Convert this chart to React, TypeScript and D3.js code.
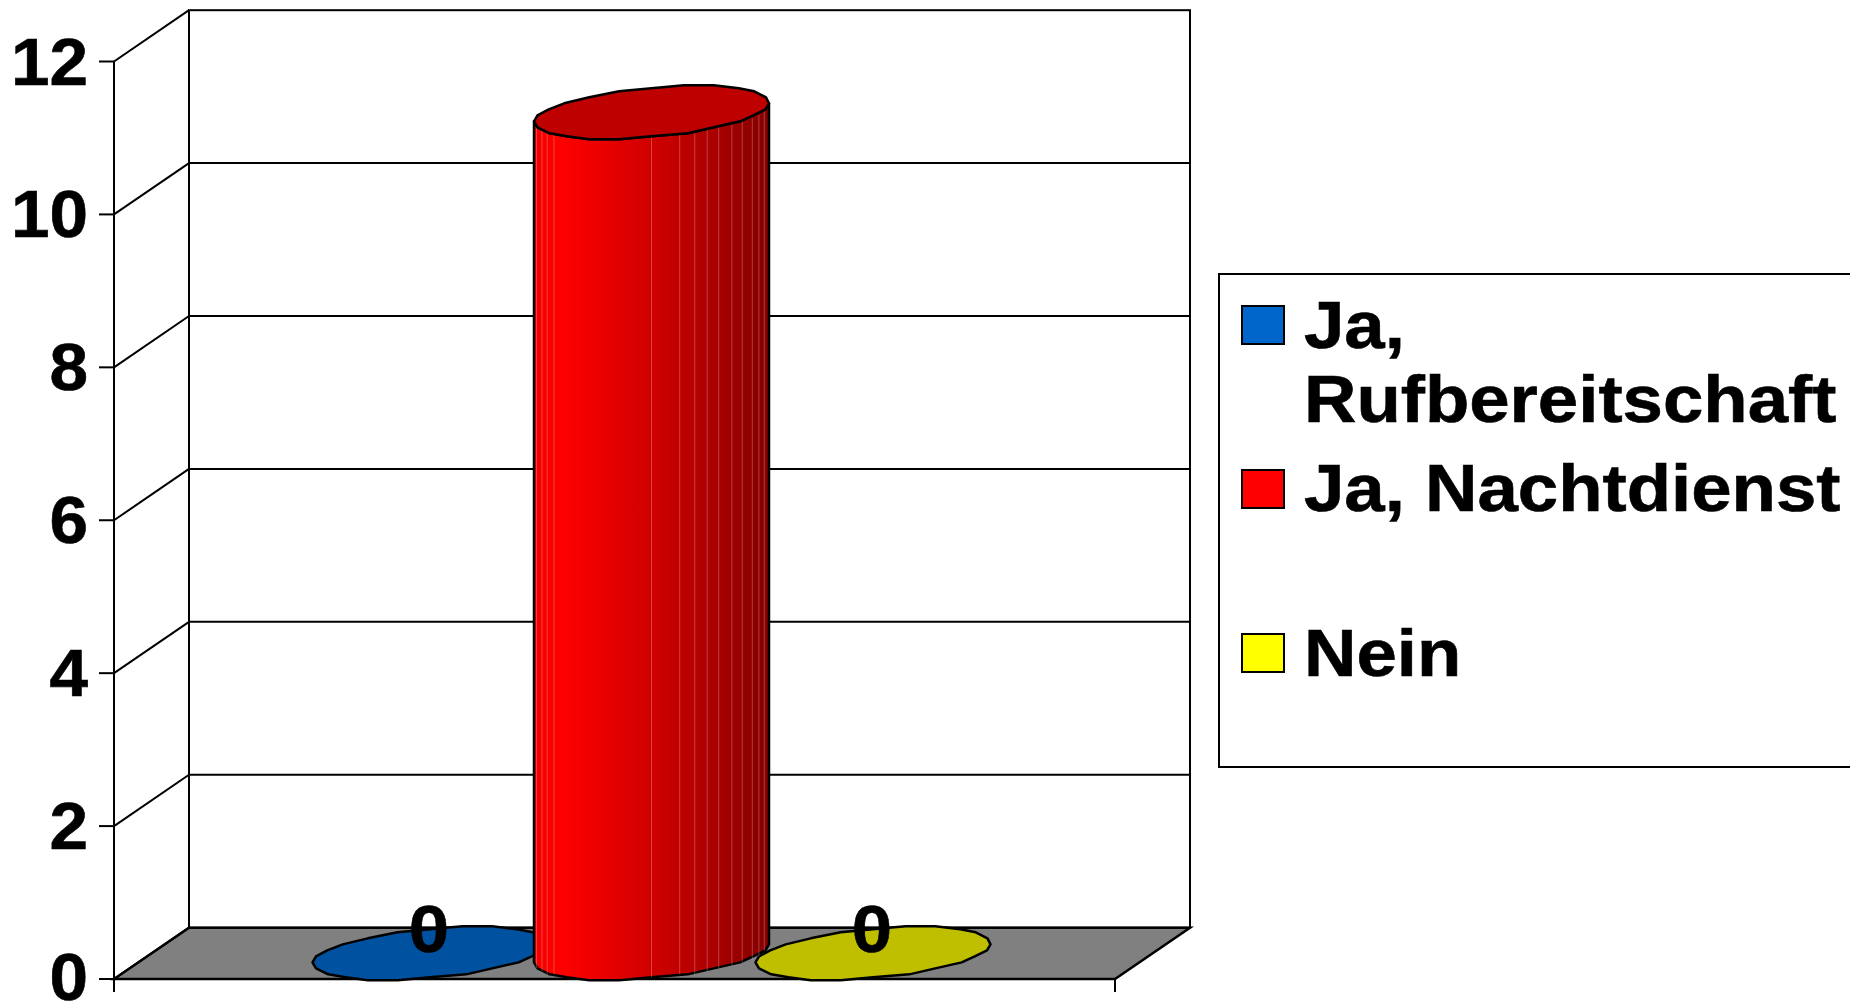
import React from 'react';
import * as d3 from 'd3';

// values
const seriesNames = ['Ja, Rufbereitschaft', 'Ja, Nachtdienst', 'Nein'];
const seriesValues = [0, 11, 0];
const seriesColors = ['#0066cc', '#ff0000', '#ffff00'];
const floorColors = ['#00519f', '#bf0000', '#bfbf00'];
const yTicks = [0, 2, 4, 6, 8, 10, 12];
const legendLines = [['Ja,', 'Rufbereitschaft'], ['Ja, Nachtdienst'], ['Nein']];

// where the thin facet seams sit across the red column (0 = left edge, 1 = right edge)
const seams = [0.011, 0.034, 0.056, 0.085, 0.5, 0.62, 0.684, 0.737, 0.786, 0.842, 0.886, 0.929, 0.957, 0.98];
// the cylinder outline is a coarse polygon, not a true ellipse
const capDegrees = [0, 14, 30, 41, 58, 72, 90, 106, 122, 136, 150, 166, 180, 194, 209, 222, 238, 254, 270, 286, 302, 318, 331, 347];

const font = '"Liberation Sans", Arial, sans-serif';

const frontX = 114;
const frontRight = 1115;
const depthX = 75;
const depthY = 51.3;
const yFront = d3.scaleLinear().domain([0, 12]).range([979, 61.5]);
const xSeries = d3.scalePoint<number>().domain([0, 1, 2]).range([430, 873]);

// cylinder cross section: a sheared ellipse
const rx = 117.5;
const ry = 24.8;
const shear = 9.3;
const capAngles = capDegrees.map(d => (d * Math.PI) / 180);

const capPoint = (cx: number, cy: number, t: number): [number, number] => [
    cx + rx * Math.cos(t),
    cy + Math.round((ry * Math.sin(t) - shear * Math.cos(t)) / 3) * 3
];
const line = d3.line();

// the reference text is Arial bold drawn a little wider than normal
const Label = ({ x, y, anchor, sx = 1.1, children }: any) => (
    <text
        transform={`translate(${x},${y}) scale(${sx},1)`}
        textAnchor={anchor}
        fontFamily={font}
        fontWeight="bold"
        fontSize={66}
        fill="#000"
        stroke="#000"
        strokeWidth={0.6}
    >
        {children}
    </text>
);

const App = () => {
    const midY = (v: number) => yFront(v) - depthY / 2;
    const redIdx = seriesValues.findIndex(v => v > 0);
    const redX = xSeries(redIdx) as number;
    const topY = midY(seriesValues[redIdx]);
    const baseY = midY(0);

    // lower half of the outline runs from the left edge (180 deg) to the right edge (0 deg)
    const lowerAngles = capAngles.filter(t => t <= Math.PI + 1e-6).reverse();
    const bodyPath = line([
        ...lowerAngles.map(t => capPoint(redX, baseY, t)),
        ...[...lowerAngles].reverse().map(t => capPoint(redX, topY, t))
    ]) + 'Z';

    const seamLines = seams.map(f => {
        const t = Math.acos(2 * f - 1);
        return [capPoint(redX, topY, t), capPoint(redX, baseY, t)];
    });

    return (
        <svg width={1850} height={1003} style={{ position: 'absolute', left: 0, top: 0, display: 'block' }}>
            <defs>
                <linearGradient id="redSide" gradientUnits="userSpaceOnUse" x1={redX - rx} x2={redX + rx} y1={0} y2={0}>
                    <stop offset="0" stopColor="#f20000" />
                    <stop offset="0.12" stopColor="#ff0000" />
                    <stop offset="0.5" stopColor="#d00000" />
                    <stop offset="0.78" stopColor="#a80000" />
                    <stop offset="1" stopColor="#840000" />
                </linearGradient>
            </defs>
            <rect width={1850} height={1003} fill="#fff" />

            {/* back wall and floor */}
            <rect x={frontX + depthX} y={yFront(12) - depthY} width={frontRight - frontX} height={yFront(0) - yFront(12)} fill="#fff" stroke="#000" strokeWidth={2} />
            <path
                d={line([
                    [frontX, yFront(0)],
                    [frontX + depthX, yFront(0) - depthY],
                    [frontRight + depthX, yFront(0) - depthY],
                    [frontRight, yFront(0)]
                ]) + 'Z'}
                fill="#808080"
                stroke="#000"
                strokeWidth={2.5}
            />

            {/* grid, left wall and ticks */}
            {yTicks.map(v => (
                <g key={v} stroke="#000" strokeWidth={2}>
                    <line x1={frontX - 15} x2={frontX} y1={yFront(v)} y2={yFront(v)} />
                    <line x1={frontX} x2={frontX + depthX} y1={yFront(v)} y2={yFront(v) - depthY} />
                    {v > 0 && v < 12 && (
                        <line x1={frontX + depthX} x2={frontRight + depthX} y1={yFront(v) - depthY} y2={yFront(v) - depthY} />
                    )}
                </g>
            ))}
            <line x1={frontX} x2={frontX} y1={yFront(12)} y2={992} stroke="#000" strokeWidth={2} />
            <line x1={frontRight} x2={frontRight} y1={yFront(0)} y2={992} stroke="#000" strokeWidth={2} />

            {yTicks.map(v => (
                <Label key={v} x={88} y={v === 0 ? yFront(v) + 21 : yFront(v) + 23} anchor="end" sx={1.05}>
                    {v}
                </Label>
            ))}

            {/* zero-height columns lie flat on the floor */}
            {seriesValues.map((v, i) =>
                v === 0 ? (
                    <path
                        key={i}
                        d={line(capAngles.map(t => capPoint(xSeries(i) as number, baseY, t))) + 'Z'}
                        fill={floorColors[i]}
                        stroke="#000"
                        strokeWidth={2.5}
                        strokeLinejoin="round"
                    />
                ) : null
            )}

            {/* the red column */}
            <path d={bodyPath} fill="url(#redSide)" stroke="#000" strokeWidth={2.5} strokeLinejoin="round" />
            {seamLines.map((p, i) => (
                <line key={i} x1={p[0][0]} y1={p[0][1]} x2={p[1][0]} y2={p[1][1]} stroke="#fff" strokeOpacity={0.25} strokeWidth={1} />
            ))}
            <path
                d={line(capAngles.map(t => capPoint(redX, topY, t))) + 'Z'}
                fill={floorColors[redIdx]}
                stroke="#000"
                strokeWidth={2.5}
                strokeLinejoin="round"
            />

            {/* value labels, only the zeros show */}
            {seriesValues.map((v, i) =>
                v === 0 ? (
                    <Label key={i} x={xSeries(i) as number - 1} y={952} anchor="middle">
                        {v}
                    </Label>
                ) : null
            )}

            {/* legend, runs off the right edge */}
            <rect x={1219} y={274} width={660} height={493} fill="#fff" stroke="#000" strokeWidth={2} />
            {seriesNames.map((name, i) => {
                const swatchY = [306, 470, 634][i];
                const baselines = [[348, 422], [511], [676]][i];
                return (
                    <g key={name}>
                        <rect x={1242} y={swatchY} width={42} height={38} fill={seriesColors[i]} stroke="#000" strokeWidth={2} />
                        {legendLines[i].map((txt, j) => (
                            <Label key={txt} x={1304} y={baselines[j]} anchor="start">
                                {txt}
                            </Label>
                        ))}
                    </g>
                );
            })}
        </svg>
    );
};

export default App;
